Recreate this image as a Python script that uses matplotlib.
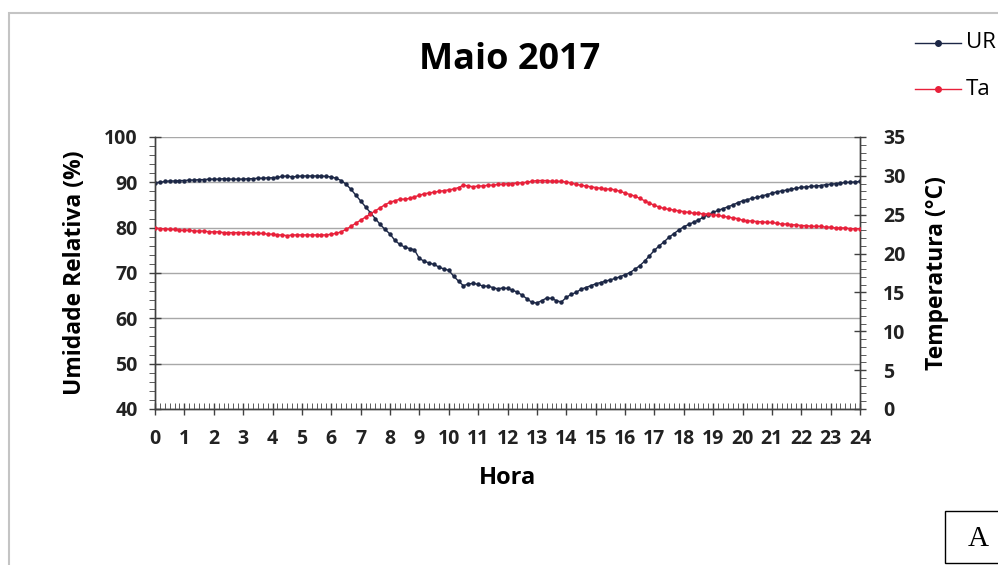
import matplotlib
matplotlib.use("Agg")
import matplotlib.pyplot as plt
import numpy as np
from matplotlib.patches import Rectangle
from matplotlib.lines import Line2D
from matplotlib.ticker import MultipleLocator

plt.rcParams['font.family'] = ['Open Sans', 'DejaVu Sans']

# leituras a cada 10 min (0h .. 24h)
hora = np.arange(145) / 6.0

ur = [89.9, 90.0, 90.2, 90.3, 90.3, 90.4,
      90.4, 90.5, 90.5, 90.6, 90.6, 90.7,
      90.7, 90.7, 90.8, 90.7, 90.7, 90.7,
      90.7, 90.8, 90.8, 90.9, 90.9, 91.0,
      91.0, 91.1, 91.3, 91.4, 91.2, 91.3,
      91.4, 91.4, 91.4, 91.4, 91.4, 91.3,
      91.2, 90.9, 90.4, 89.6, 88.5, 87.2,
      85.9, 84.6, 83.3, 82.0, 80.7, 79.6,
      78.6, 77.2, 76.3, 75.7, 75.4, 75.1,
      73.2, 72.6, 72.2, 71.9, 71.3, 70.9,
      70.6, 69.3, 68.2, 67.2, 67.6, 67.7,
      67.5, 67.1, 67.1, 66.8, 66.5, 66.7,
      66.6, 66.2, 65.8, 65.1, 64.3, 63.5,
      63.4, 63.9, 64.5, 64.4, 63.9, 63.6,
      64.6, 65.3, 65.7, 66.4, 66.8, 67.2,
      67.6, 67.9, 68.2, 68.5, 68.8, 69.2,
      69.6, 70.1, 70.8, 71.6, 72.6, 73.8,
      75.0, 76.0, 76.9, 77.9, 78.7, 79.5,
      80.2, 80.7, 81.2, 81.7, 82.3, 82.9,
      83.4, 83.8, 84.2, 84.6, 85.0, 85.5,
      85.9, 86.2, 86.5, 86.7, 87.0, 87.3,
      87.6, 87.9, 88.1, 88.3, 88.5, 88.7,
      88.9, 89.0, 89.1, 89.2, 89.3, 89.5,
      89.6, 89.7, 89.8, 90.0, 90.0, 90.1,
      90.2]

ta = [23.3, 23.2, 23.2, 23.1, 23.1, 23.0,
      23.0, 23.0, 22.9, 22.9, 22.9, 22.8,
      22.8, 22.8, 22.7, 22.7, 22.7, 22.7,
      22.7, 22.7, 22.6, 22.6, 22.6, 22.5,
      22.5, 22.4, 22.4, 22.3, 22.4, 22.4,
      22.4, 22.4, 22.4, 22.4, 22.4, 22.4,
      22.5, 22.6, 22.8, 23.1, 23.5, 23.9,
      24.3, 24.7, 25.1, 25.5, 25.9, 26.3,
      26.6, 26.8, 27.0, 27.0, 27.1, 27.3,
      27.5, 27.7, 27.8, 27.9, 28.0, 28.1,
      28.2, 28.3, 28.5, 28.8, 28.7, 28.6,
      28.7, 28.7, 28.8, 28.8, 28.9, 28.9,
      29.0, 29.0, 29.1, 29.1, 29.2, 29.3,
      29.4, 29.4, 29.4, 29.3, 29.3, 29.3,
      29.2, 29.1, 28.9, 28.8, 28.7, 28.6,
      28.5, 28.4, 28.3, 28.3, 28.2, 28.0,
      27.8, 27.6, 27.4, 27.1, 26.8, 26.5,
      26.2, 26.0, 25.8, 25.7, 25.6, 25.5,
      25.4, 25.3, 25.2, 25.2, 25.1, 25.1,
      25.0, 24.9, 24.8, 24.7, 24.6, 24.5,
      24.3, 24.2, 24.2, 24.1, 24.1, 24.0,
      24.0, 23.9, 23.8, 23.8, 23.7, 23.7,
      23.6, 23.6, 23.5, 23.5, 23.5, 23.4,
      23.4, 23.3, 23.3, 23.3, 23.2, 23.2,
      23.2]

horas_label = [str(h) for h in range(25)]
cor_ur = '#1c2746'
cor_ta = '#e8203a'
cinza = '#404040'

fig = plt.figure(figsize=(9.98, 5.65), dpi=100)
ax = fig.add_axes([155/998, 1-409/565, 705/998, 272/565])
ax2 = ax.twinx()

ax.plot(hora, ur, color=cor_ur, lw=1.0, marker='o', ms=2.2, zorder=3)
ax2.plot(hora, ta, color=cor_ta, lw=1.0, marker='o', ms=2.2, zorder=3)

ax.set_xlim(0, 24)
ax.set_ylim(40, 100)
ax2.set_ylim(0, 35)

ax.set_xticks(range(25))
ax.set_xticklabels(horas_label)
ax.xaxis.set_minor_locator(MultipleLocator(1/6))
ax.yaxis.set_major_locator(MultipleLocator(10))
ax.yaxis.set_minor_locator(MultipleLocator(2))
ax2.yaxis.set_major_locator(MultipleLocator(5))
ax2.yaxis.set_minor_locator(MultipleLocator(1))

ax.grid(axis='y', which='major', color='#a8a8a8', lw=1.0)
ax.set_axisbelow(True)

for a in (ax, ax2):
    a.spines['top'].set_visible(False)
    for s in a.spines.values():
        s.set_color(cinza)
        s.set_linewidth(1.0)

ax.tick_params(axis='x', which='major', direction='inout', length=9, width=1,
               color=cinza, labelsize=14, pad=10)
ax.tick_params(axis='y', which='major', direction='inout', length=9, width=1,
               color=cinza, labelsize=14, pad=8)
ax.tick_params(axis='x', which='minor', direction='in', length=4, color=cinza)
ax.tick_params(axis='y', which='minor', direction='out', length=4, color=cinza)
ax2.tick_params(axis='y', which='major', direction='inout', length=9, width=1,
                color=cinza, labelsize=14, pad=12)
ax2.tick_params(axis='y', which='minor', direction='out', length=4, color=cinza)

for lab in ax.get_xticklabels() + ax.get_yticklabels() + ax2.get_yticklabels():
    lab.set_fontweight('bold')
    lab.set_color('#222222')

ax.set_xlabel('Hora', fontsize=17, fontweight='bold', labelpad=12)
ax.set_ylabel('Umidade Relativa (%)', fontsize=16.5, fontweight='bold', labelpad=12)
ax2.set_ylabel('Temperatura (°C)', fontsize=16.5, fontweight='bold', labelpad=14)

fig.text(510/998, 1-60/565, 'Maio 2017', ha='center', va='center',
         fontsize=26, fontweight='bold')

# legenda (cortada na borda direita)
for yy, cor, txt in [(43, cor_ur, 'UR'), (89, cor_ta, 'Ta')]:
    fig.add_artist(Line2D([915/998, 961/998], [1-yy/565, 1-yy/565], color=cor,
                          lw=1.0, transform=fig.transFigure))
    fig.add_artist(Line2D([938/998], [1-yy/565], color=cor, marker='o', ms=4,
                          transform=fig.transFigure))
    fig.text(966/998, 1-yy/565, txt, ha='left', va='center', fontsize=16)

# moldura do grafico
fig.add_artist(Rectangle((9/998, -0.1), 1.2, 1-13/565+0.1, transform=fig.transFigure,
                         fill=False, edgecolor='#c4c4c4', lw=1.5))

# caixa "A"
fig.add_artist(Rectangle((945/998, 2/565), 60/998, 52/565, transform=fig.transFigure,
                         fill=True, facecolor='white', edgecolor='black', lw=1.0,
                         clip_on=False))
fig.text(978/998, 1-539/565, 'A', ha='center', va='center', fontsize=21,
         family='Liberation Serif')

plt.savefig('out.png', dpi=100)
